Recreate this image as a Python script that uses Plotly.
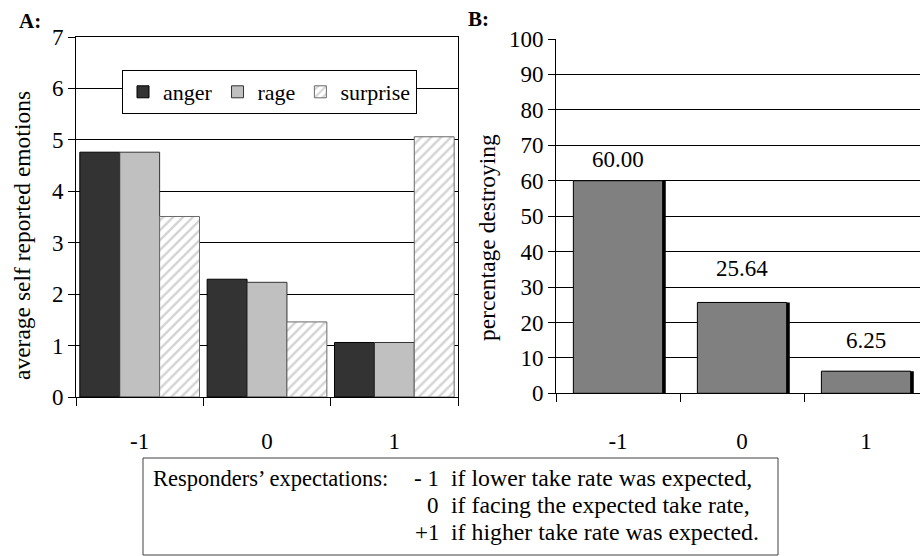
import plotly.graph_objects as go

# ---- data ----
categories = ["-1", "0", "1"]
anger = [4.76, 2.29, 1.06]
rage = [4.76, 2.23, 1.06]
surprise = [3.51, 1.46, 5.06]
destroying = [60.00, 25.64, 6.25]
destroying_labels = ["60.00", "25.64", "6.25"]
legend_names = ["anger", "rage", "surprise"]
box_label = "Responders\u2019 expectations:"
box_codes = ["- 1", "0", "+1"]
box_texts = ["if lower take rate was expected,",
             "if facing the expected take rate,",
             "if higher take rate was expected."]

# ---- styling helpers ----
W, H = 920, 556
FONT = "Liberation Serif"
def px(x):
    return x / W
def py(y):
    return 1 - y / H

label_shift = [21, 34, 31]
line_y = [478, 505, 532]

fig = go.Figure()

fig.add_trace(go.Bar(x=categories, y=anger, name=legend_names[0],
                     marker=dict(color="#333333", line=dict(color="#000000", width=1)),
                     xaxis="x", yaxis="y"))
fig.add_trace(go.Bar(x=categories, y=rage, name=legend_names[1],
                     marker=dict(color="#c0c0c0", line=dict(color="#333333", width=1)),
                     xaxis="x", yaxis="y"))
fig.add_trace(go.Bar(x=categories, y=surprise, name=legend_names[2],
                     marker=dict(color="white", line=dict(color="#6a6a6a", width=1),
                                 pattern=dict(shape="/", fgcolor="#a8a8a8", bgcolor="white",
                                              size=7, solidity=0.35)),
                     xaxis="x", yaxis="y"))

fig.add_trace(go.Bar(x=categories, y=destroying, width=0.72, offset=-0.335,
                     marker=dict(color="#000000", line=dict(width=0)),
                     showlegend=False, hoverinfo="skip",
                     xaxis="x2", yaxis="y2"))
fig.add_trace(go.Bar(x=categories, y=destroying, width=0.72, offset=-0.36,
                     marker=dict(color="#808080", line=dict(color="#000000", width=1)),
                     showlegend=False, xaxis="x2", yaxis="y2"))

axis_common = dict(showline=True, linecolor="#000000", linewidth=1,
                   tickfont=dict(family=FONT, size=23, color="#000000"),
                   ticks="outside", tickcolor="#000000", automargin=False,
                   zeroline=False, fixedrange=True)

def txt_font(size):
    return dict(family=FONT, size=size, color="#000000")

annotations = []
for i, (v, t, s) in enumerate(zip(destroying, destroying_labels, label_shift)):
    annotations.append(dict(x=i, y=v, xref="x2", yref="y2", text=t, showarrow=False,
                            xanchor="center", yanchor="middle", yshift=s,
                            font=txt_font(23)))

annotations += [
    dict(x=px(22), y=py(236), xref="paper", yref="paper", text="average self reported emotions",
         textangle=-90, showarrow=False, xanchor="center", yanchor="middle", font=txt_font(23.5)),
    dict(x=px(487), y=py(238), xref="paper", yref="paper", text="percentage destroying",
         textangle=-90, showarrow=False, xanchor="center", yanchor="middle", font=txt_font(23.5)),
    dict(x=px(30), y=py(21), xref="paper", yref="paper", text="<b>A:</b>",
         showarrow=False, xanchor="center", yanchor="middle", font=txt_font(21)),
    dict(x=px(478), y=py(19), xref="paper", yref="paper", text="<b>B:</b>",
         showarrow=False, xanchor="center", yanchor="middle", font=txt_font(21)),
    dict(x=px(151), y=py(line_y[0]), xref="paper", yref="paper", text=box_label,
         xanchor="left", yanchor="middle", showarrow=False, font=txt_font(22.5)),
]
for code, txt, yy in zip(box_codes, box_texts, line_y):
    annotations.append(dict(x=px(441), y=py(yy), xref="paper", yref="paper", text=code,
                            xanchor="right", yanchor="middle", showarrow=False,
                            font=txt_font(23)))
    annotations.append(dict(x=px(449), y=py(yy), xref="paper", yref="paper", text=txt,
                            xanchor="left", yanchor="middle", showarrow=False,
                            font=txt_font(23.8)))

fig.update_layout(
    width=W, height=H,
    margin=dict(l=0, r=0, t=0, b=0),
    paper_bgcolor="white", plot_bgcolor="white",
    barmode="group", bargap=0.06, bargroupgap=0,
    font=dict(family=FONT, color="#000000"),
    xaxis=dict(domain=[px(76), px(458)], type="category", range=[-0.5, 2.5],
               tickson="boundaries", ticklen=8, mirror=True, showgrid=False,
               ticklabelstandoff=23, anchor="y", **axis_common),
    yaxis=dict(domain=[py(397), py(37)], range=[0, 7], dtick=1, tick0=0, ticklen=7,
               mirror=True, showgrid=True, gridcolor="#000000", gridwidth=1,
               anchor="x", **axis_common),
    xaxis2=dict(domain=[px(556), 1.0], type="category", range=[-0.5, 2.435],
                tickson="boundaries", ticklen=8, showgrid=False,
                ticklabelstandoff=27, anchor="y2", **axis_common),
    yaxis2=dict(domain=[py(393.3), py(39)], range=[0, 100], dtick=10, tick0=0, ticklen=7,
                showgrid=True, gridcolor="#000000", gridwidth=1,
                anchor="x2", **axis_common),
    legend=dict(orientation="h", x=px(122), y=py(70), xanchor="left", yanchor="top",
                bordercolor="#000000", borderwidth=1, bgcolor="white",
                font=txt_font(22), itemwidth=30, tracegroupgap=0),
    shapes=[dict(type="rect", xref="paper", yref="paper",
                 x0=px(143), x1=px(778), y0=py(555), y1=py(458),
                 line=dict(color="#404040", width=1), fillcolor="rgba(0,0,0,0)")],
    annotations=annotations,
    showlegend=True,
)

fig.write_html("out.html")
